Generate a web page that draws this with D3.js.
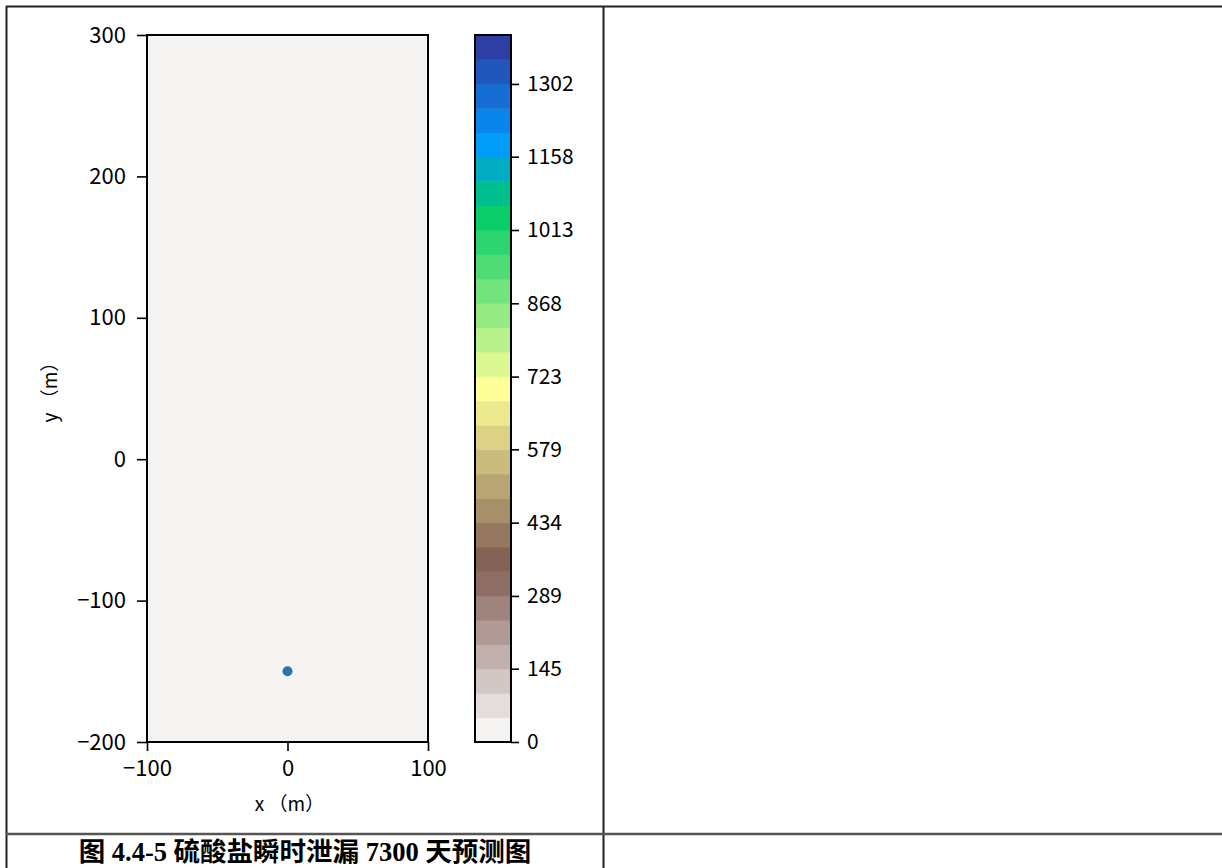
<!DOCTYPE html>
<html>
<head>
<meta charset="utf-8">
<script src="https://cdn.jsdelivr.net/npm/d3@7"></script>
<style>
  html, body { margin: 0; padding: 0; background: #fff; }
  svg { display: block; }
</style>
</head>
<body>
<svg id="chart" width="1222" height="868"></svg>
<script>
// ---- data ----
const xDomain = [-100, 100];
const yDomain = [-200, 300];
const xTicks = [-100, 0, 100];
const yTicks = [-200, -100, 0, 100, 200, 300];
const cbarMax = 1398.8;
const nLevels = 29;
const cbarTicks = [0, 145, 289, 434, 579, 723, 868, 1013, 1158, 1302];
// concentration field: whole domain at 0
const fieldCells = [{ x0: -100, x1: 100, y0: -200, y1: 300, value: 0 }];
const sources = [{ x: 0, y: -150 }];
const caption = "图 4.4-5 硫酸盐瞬时泄漏 7300 天预测图";

// terrain_r colormap stops
const cmapPos = [0, 0.25, 0.5, 0.75, 0.85, 1.0];
const cmapCol = ["#ffffff", "#805c54", "#ffff99", "#00cc66", "#0099ff", "#333399"];
const cmap = d3.scaleLinear().domain(cmapPos).range(cmapCol).interpolate(d3.interpolateRgb).clamp(true);

const levels = d3.range(nLevels + 1).map(i => i * cbarMax / nLevels);
const bands = d3.range(nLevels).map(i => ({ lo: levels[i], hi: levels[i + 1], mid: (levels[i] + levels[i + 1]) / 2 }));
const norm = d3.scaleLinear().domain([0, cbarMax]).range([0, 1]);
function bandColor(v) {
  let b = bands.find(b => v >= b.lo && v <= b.hi) || bands[0];
  return cmap(norm(b.mid));
}

const svg = d3.select("#chart");
const SANS = "'Noto Sans CJK SC', 'Noto Sans', sans-serif";

// ---- table frame ----
const frame = svg.append("g").attr("stroke", "#222").attr("fill", "none");
frame.append("line").attr("x1", 6).attr("x2", 1222).attr("y1", 6.5).attr("y2", 6.5).attr("stroke-width", 2);
frame.append("line").attr("x1", 6.5).attr("x2", 6.5).attr("y1", 6).attr("y2", 868).attr("stroke-width", 2);
frame.append("line").attr("x1", 603.5).attr("x2", 603.5).attr("y1", 6).attr("y2", 868).attr("stroke-width", 2);
frame.append("line").attr("x1", 6).attr("x2", 1222).attr("y1", 834).attr("y2", 834).attr("stroke-width", 2.5).attr("stroke", "#555");

// ---- main axes ----
const L = 147, R = 428, T = 35, B = 742;
const x = d3.scaleLinear().domain(xDomain).range([L, R]);
const y = d3.scaleLinear().domain(yDomain).range([B, T]);

svg.append("g").selectAll("rect").data(fieldCells).join("rect")
  .attr("x", d => x(d.x0)).attr("y", d => y(d.y1))
  .attr("width", d => x(d.x1) - x(d.x0)).attr("height", d => y(d.y0) - y(d.y1))
  .attr("fill", d => bandColor(d.value));

svg.append("g").selectAll("circle").data(sources).join("circle")
  .attr("cx", d => x(d.x)).attr("cy", d => y(d.y)).attr("r", 5).attr("fill", "#1f77b4");

const fmt = d => (d < 0 ? "\u2212" + Math.abs(d) : "" + d);
const xAxis = svg.append("g").attr("transform", `translate(0,${B})`)
  .call(d3.axisBottom(x).tickValues(xTicks).tickFormat(fmt).tickSize(9).tickPadding(9));
const yAxis = svg.append("g").attr("transform", `translate(${L},0)`)
  .call(d3.axisLeft(y).tickValues(yTicks).tickFormat(fmt).tickSize(10).tickPadding(11));
[xAxis, yAxis].forEach(a => {
  a.select(".domain").remove();
  a.selectAll(".tick line").attr("stroke", "#000").attr("stroke-width", 1.6);
  a.selectAll(".tick text").attr("fill", "#000")
    .style("font-size", "22px").style("font-family", SANS);
});
svg.append("rect").attr("x", L).attr("y", T).attr("width", R - L).attr("height", B - T)
  .attr("fill", "none").attr("stroke", "#000").attr("stroke-width", 2);

svg.append("text").attr("x", (L + R) / 2 + 2).attr("y", 811).attr("text-anchor", "middle")
  .style("font-size", "19px").style("font-family", SANS).text("x （m）");
svg.append("text").attr("transform", `translate(57,${(T + B) / 2 - 1}) rotate(-90)`)
  .attr("text-anchor", "middle").style("font-size", "19px").style("font-family", SANS).text("y （m）");

// ---- colorbar ----
const cL = 475, cR = 511;
const cy = d3.scaleLinear().domain([0, cbarMax]).range([B, T]);
svg.append("g").selectAll("rect").data(bands).join("rect")
  .attr("x", cL).attr("width", cR - cL)
  .attr("y", d => cy(d.hi)).attr("height", d => cy(d.lo) - cy(d.hi) + 0.5)
  .attr("fill", d => cmap(norm(d.mid)));
svg.append("rect").attr("x", cL).attr("y", T).attr("width", cR - cL).attr("height", B - T)
  .attr("fill", "none").attr("stroke", "#000").attr("stroke-width", 2);
const cAxis = svg.append("g").attr("transform", `translate(${cR},0)`)
  .call(d3.axisRight(cy).tickValues(cbarTicks).tickFormat(d => d).tickSize(8).tickPadding(8));
cAxis.select(".domain").remove();
cAxis.selectAll(".tick line").attr("stroke", "#000").attr("stroke-width", 1.6);
cAxis.selectAll(".tick text").attr("fill", "#000")
  .style("font-size", "21px").style("font-family", SANS);

// ---- caption ----
svg.append("text").attr("x", 305).attr("y", 861).attr("text-anchor", "middle")
  .style("font-size", "26.5px").style("font-weight", "bold")
  .style("font-family", "'Liberation Serif', 'Noto Sans CJK SC', serif")
  .text(caption);
</script>
</body>
</html>
